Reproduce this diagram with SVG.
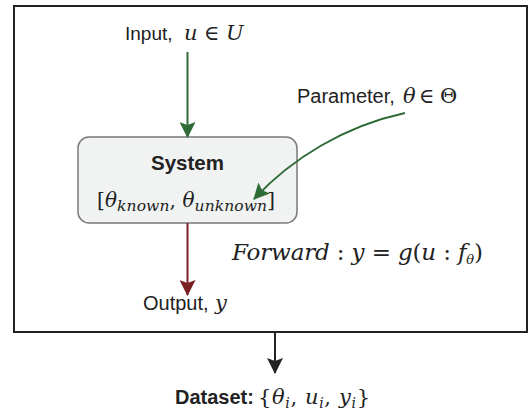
<svg xmlns="http://www.w3.org/2000/svg" width="530" height="414" viewBox="0 0 530 414">
  <defs>
    <style>
      .sans { font-family: "Liberation Sans", Arial, sans-serif; fill: #222; }
      .bold { font-weight: bold; }
      .math { font-family: "DejaVu Serif", "Liberation Serif", serif; font-style: italic; fill: #222; }
      .up { font-style: normal; }
      .frame { fill: #fff; stroke: #222; stroke-width: 2; }
      .box { fill: #f1f3f3; stroke: #7a7a7a; stroke-width: 1.5; }
      .green { fill: none; stroke: #2f6b37; stroke-width: 2; }
      .red { fill: none; stroke: #7a1f24; stroke-width: 2; }
      .black { fill: none; stroke: #222; stroke-width: 2; }
    </style>
    <marker id="arrowGreen" viewBox="0 0 16 16" refX="15" refY="8" markerWidth="16" markerHeight="16" markerUnits="userSpaceOnUse" orient="auto">
      <path d="M0,0 L16,8 L0,16 L3,8 Z" fill="#2f6b37"/>
    </marker>
    <marker id="arrowRed" viewBox="0 0 16 16" refX="15" refY="8" markerWidth="16" markerHeight="16" markerUnits="userSpaceOnUse" orient="auto">
      <path d="M0,0 L16,8 L0,16 L3,8 Z" fill="#7a1f24"/>
    </marker>
    <marker id="arrowBlack" viewBox="0 0 16 16" refX="15" refY="8" markerWidth="16" markerHeight="16" markerUnits="userSpaceOnUse" orient="auto">
      <path d="M0,0 L16,8 L0,16 L3,8 Z" fill="#222"/>
    </marker>
  </defs>

  <!-- outer simulation frame -->
  <rect class="frame" x="14" y="6" width="513" height="326"/>

  <!-- input -->
  <g id="input">
    <text x="125" y="40" class="sans" font-size="19">Input,</text>
    <text y="40" class="math" font-size="21"><tspan x="184">u</tspan><tspan x="204" class="up">∈</tspan><tspan x="226">U</tspan></text>
  </g>

  <!-- parameter -->
  <g id="parameter">
    <text x="297" y="103" class="sans" font-size="20">Parameter,</text>
    <text y="103" class="math" font-size="21"><tspan x="403">θ</tspan><tspan x="419" class="up">∈</tspan><tspan x="440" class="up">Θ</tspan></text>
  </g>

  <!-- system block -->
  <g id="system">
    <rect class="box" x="78" y="137" width="219" height="86" rx="11"/>
    <text x="187.5" y="170" class="sans bold" font-size="20.5" text-anchor="middle">System</text>
    <text x="97" y="207" class="math" font-size="20" textLength="178" lengthAdjust="spacing"><tspan class="up">[</tspan>θ<tspan font-size="15.5" dy="4">known</tspan><tspan class="up" dy="-4">, </tspan>θ<tspan font-size="15.5" dy="4">unknown</tspan><tspan class="up" dy="-4">]</tspan></text>
  </g>

  <!-- forward model -->
  <g id="forward">
    <text x="232" y="260" class="math" font-size="23" textLength="251" lengthAdjust="spacing">Forward<tspan class="up"> : </tspan>y<tspan class="up"> = </tspan>g<tspan class="up">(</tspan>u<tspan class="up"> : </tspan>f<tspan font-size="13" dy="4">θ</tspan><tspan class="up" dy="-4">)</tspan></text>
  </g>

  <!-- output -->
  <g id="output">
    <text x="143" y="310" class="sans" font-size="20">Output,</text>
    <text x="215" y="310" class="math" font-size="21">y</text>
  </g>

  <!-- dataset -->
  <g id="dataset">
    <text x="175" y="404" class="sans bold" font-size="20">Dataset:</text>
    <text x="258" y="404" class="math" font-size="21" textLength="112" lengthAdjust="spacing"><tspan class="up">{</tspan>θ<tspan font-size="14" dy="4">i</tspan><tspan class="up" dy="-4">, </tspan>u<tspan font-size="14" dy="4">i</tspan><tspan class="up" dy="-4">, </tspan>y<tspan font-size="14" dy="4">i</tspan><tspan class="up" dy="-4">}</tspan></text>
  </g>

  <!-- connectors, drawn above the blocks -->
  <g id="connectors">
    <path class="green" d="M187.5,52 L187.5,137" marker-end="url(#arrowGreen)"/>
    <path class="green" d="M405,113 C345,126 292,158 254,199" marker-end="url(#arrowGreen)"/>
    <path class="red" d="M187.5,223 L187.5,295" marker-end="url(#arrowRed)"/>
    <path class="black" d="M275,332 L275,373" marker-end="url(#arrowBlack)"/>
  </g>
</svg>
